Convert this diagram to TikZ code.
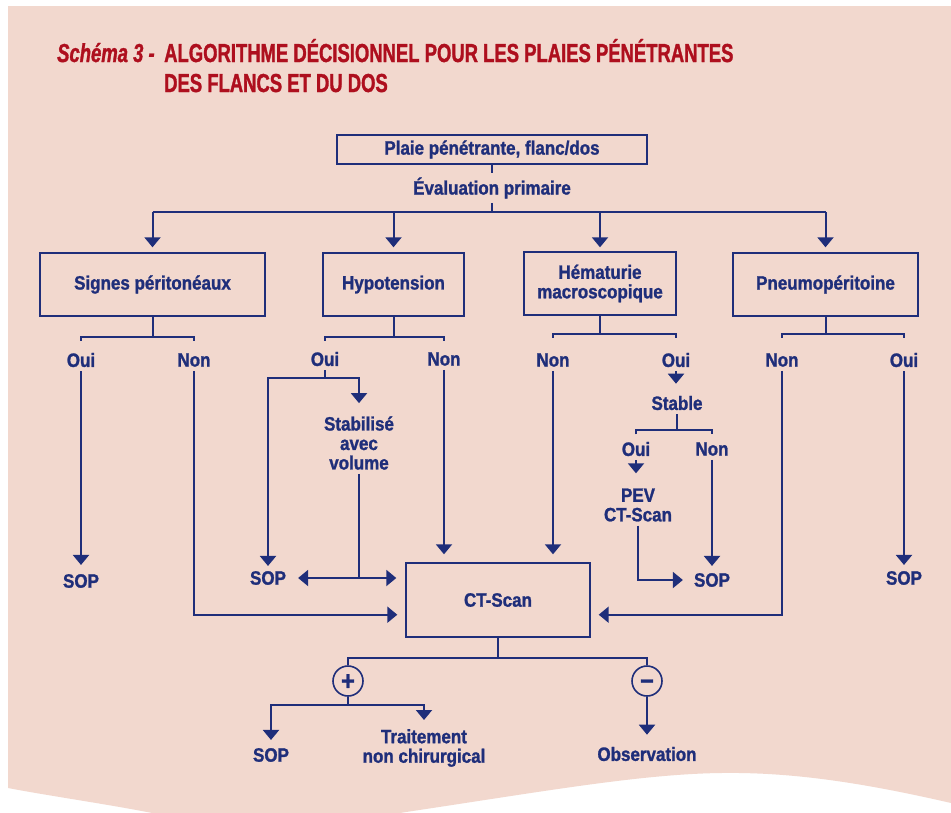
\documentclass[tikz,border=0pt]{standalone}
\usepackage{fontspec}
\setmainfont{Liberation Sans}[FakeStretch=0.88, BoldFeatures={FakeBold=1.3}, BoldItalicFeatures={FakeBold=1.2}]
\newfontfamily\titlefont{Liberation Sans}[FakeStretch=0.71, BoldFeatures={FakeBold=1.2}, BoldItalicFeatures={FakeBold=1.2}]
\usetikzlibrary{arrows.meta,calc}
\definecolor{navy}{HTML}{1F2E7A}
\definecolor{tred}{HTML}{AE0F1E}
\definecolor{bgpink}{HTML}{F2D8CE}
\tikzset{
  lbl/.style={font=\fontsize{19.3pt}{19.5pt}\selectfont\bfseries, text=navy, inner xsep=0pt, inner ysep=4pt, align=center},
  bx/.style={draw=navy, line width=1.4pt, inner sep=0pt, font=\fontsize{19.3pt}{19.5pt}\selectfont\bfseries, text=navy, align=center},
  ln/.style={draw=navy, line width=2pt},
  arr/.style={ln, -{Triangle[width=16pt,length=10pt]}, shorten >=4pt},
  dblarr/.style={ln, {Triangle[width=16pt,length=10pt]}-{Triangle[width=16pt,length=10pt]}},
  ttl/.style={font=\titlefont\fontsize{26pt}{30pt}\selectfont\bfseries, text=tred, inner sep=0pt, anchor=base west},
  sgn/.style={circle, draw=navy, line width=1.6pt, minimum size=30pt, inner sep=0pt},
  sgntxt/.style={anchor=base, inner sep=0pt, text=navy, font=\fontsize{27pt}{27pt}\selectfont\bfseries}
}
\begin{document}
\begin{tikzpicture}[x=1pt,y=-1pt]
\useasboundingbox (0,0) rectangle (951,812);
\fill[white] (0,0) rectangle (951,812);
\begin{scope}
\clip (0,0) rectangle (951,812);
\fill[bgpink] (8,6) -- (951,6) -- (951,803) .. controls (860,782) and (790,772) .. (721,773) .. controls (640,774) and (540,792) .. (406,812) .. controls (330,825) and (220,826) .. (147,812) .. controls (100,803) and (50,796) .. (8,788) -- cycle;
\end{scope}

% title
\node[ttl] (t1) at (57,62) {\itshape Schéma 3 -};
\node[ttl] (t2) at (164,62) {ALGORITHME DÉCISIONNEL POUR LES PLAIES PÉNÉTRANTES};
\node[ttl] (t3) at (164,92) {DES FLANCS ET DU DOS};

% top
\node[bx, minimum width=310pt, minimum height=29pt] (top) at (492,149.5) {Plaie pénétrante, flanc/dos};
\node[lbl] (eval) at (492,188) {Évaluation primaire};

% boxes
\node[bx, minimum width=225pt, minimum height=63pt] (sig) at (152.5,284.5) {Signes péritonéaux};
\node[bx, minimum width=141pt, minimum height=63pt] (hyp) at (393.5,284.5) {Hypotension};
\node[bx, minimum width=152pt, minimum height=63pt] (hem) at (600,283.5) {Hématurie\\macroscopique};
\node[bx, minimum width=185pt, minimum height=63pt] (pneu) at (825.5,284.5) {Pneumopéritoine};
\node[bx, minimum width=184pt, minimum height=74pt] (ct) at (498,600) {CT-Scan};

% labels
\node[lbl] (sigOui) at (81,360) {Oui};
\node[lbl] (sigNon) at (194,360) {Non};
\node[lbl] (sop1) at (81,581) {SOP};
\node[lbl] (hypOui) at (325,359) {Oui};
\node[lbl] (hypNon) at (444,359) {Non};
\node[lbl] (stab) at (359,443) {Stabilisé\\avec\\volume};
\node[lbl] (sop2) at (268,578) {SOP};
\node[lbl] (hemNon) at (553,360) {Non};
\node[lbl] (hemOui) at (676,360) {Oui};
\node[lbl] (stable) at (677,403) {Stable};
\node[lbl] (stOui) at (636,449) {Oui};
\node[lbl] (stNon) at (712,449) {Non};
\node[lbl] (pev) at (638,505) {PEV\\CT-Scan};
\node[lbl] (sop3) at (712,580) {SOP};
\node[lbl] (pnNon) at (782,360) {Non};
\node[lbl] (pnOui) at (904,360) {Oui};
\node[lbl] (sop4) at (904,578) {SOP};
\node[sgn] (plus) at (348,681) {};
\node[sgn] (minus) at (647,681) {};
\node[sgntxt] (plustxt) at ($(plus.center)+(0,9)$) {+};
\node[sgntxt] (minustxt) at ($(minus.center)+(0,9)$) {−};
\node[lbl] (sop5) at (271,755) {SOP};
\node[lbl] (trait) at (424,748) {Traitement\\non chirurgical};
\node[lbl] (obs) at (647,754) {Observation};

% top connectors
\coordinate (bar) at (492,212);
\draw[ln] (top.south) -- (eval.north);
\draw[ln] (eval.south) -- (bar);
\draw[ln] (sig.north |- bar) -- (pneu.north |- bar);
\foreach \b in {sig,hyp,hem,pneu} \draw[arr, shorten >=5pt] (\b.north |- bar) -- (\b.north |- sig.north);

% side entries of CT
\coordinate (ctl) at ($(ct.south west)+(0,-23)$);
\coordinate (ctr) at ($(ct.south east)+(0,-23)$);

% signes
\coordinate (sigj) at ($(sig.south)+(0,20)$);
\draw[ln] (sig.south) -- (sigj);
\draw[ln] (sigOui.north |- sigj) ++(0,4) -- ++(0,-4) -- (sigNon.north |- sigj) -- ++(0,4);
\draw[arr, shorten >=5pt] (sigOui.south) -- (sop1.north);
\draw[arr, shorten >=8pt] (sigNon.south) |- (ctl);

% hypotension
\coordinate (hypj) at ($(hyp.south)+(0,20)$);
\draw[ln] (hyp.south) -- (hypj);
\draw[ln] (hypOui.north |- hypj) ++(0,4) -- ++(0,-4) -- (hypNon.north |- hypj) -- ++(0,4);
\coordinate (hoj) at ($(hypOui.south)+(0,8)$);
\draw[ln] (hypOui.south) -- (hoj);
\draw[arr, shorten >=1pt] (hoj) -| (sop2.north);
\draw[arr, shorten >=9pt] (hoj) -| (stab.north);
\draw[ln] (stab.south) -- (stab.south |- sop2.east);
\draw[dblarr, shorten <=12pt, shorten >=9pt] (sop2.east) -- (sop2.east -| ct.west);
\draw[arr, shorten >=8pt] (hypNon.south) -- (hypNon.south |- ct.north);

% hematurie
\coordinate (hemj) at ($(hem.south)+(0,18)$);
\draw[ln] (hem.south) -- (hemj);
\draw[ln] (hemNon.north |- hemj) ++(0,4) -- ++(0,-4) -- (hemOui.north |- hemj) -- ++(0,4);
\draw[arr, shorten >=8pt] (hemNon.south) -- (hemNon.south |- ct.north);
\draw[arr, shorten >=8pt] (hemOui.south) -- (hemOui.south |- stable.north);
\coordinate (stj) at ($(stable.south)+(0,16)$);
\draw[ln] (stable.south) -- (stj);
\draw[ln] (stOui.north |- stj) ++(0,4) -- ++(0,-4) -- (stNon.north |- stj) -- ++(0,4);
\draw[arr, shorten >=11pt] (stOui.south) -- (stOui.south |- pev.north);
\draw[arr, shorten >=11pt] (pev.south) |- (sop3.west);
\draw[arr, shorten >=3pt] (stNon.south) -- (sop3.north);

% pneumo
\coordinate (pnj) at ($(pneu.south)+(0,17)$);
\draw[ln] (pneu.south) -- (pnj);
\draw[ln] (pnNon.north |- pnj) ++(0,4) -- ++(0,-4) -- (pnOui.north |- pnj) -- ++(0,4);
\draw[arr, shorten >=2pt] (pnOui.south) -- (sop4.north);
\draw[arr, shorten >=8pt] (pnNon.south) |- (ctr);

% bottom
\coordinate (ctj) at ($(ct.south)+(0,20)$);
\draw[ln] (ct.south) -- (ctj);
\draw[ln] (plus.north) |- (ctj) -| (minus.north);
\coordinate (pj) at ($(plus.south)+(0,8)$);
\draw[ln] (plus.south) -- (pj);
\draw[arr, shorten >=4pt] (pj) -| (sop5.north);
\draw[arr, shorten >=5pt] (pj) -| (trait.north);
\draw[arr, shorten >=8pt] (minus.south) -- (obs.north);
\end{tikzpicture}
\end{document}
